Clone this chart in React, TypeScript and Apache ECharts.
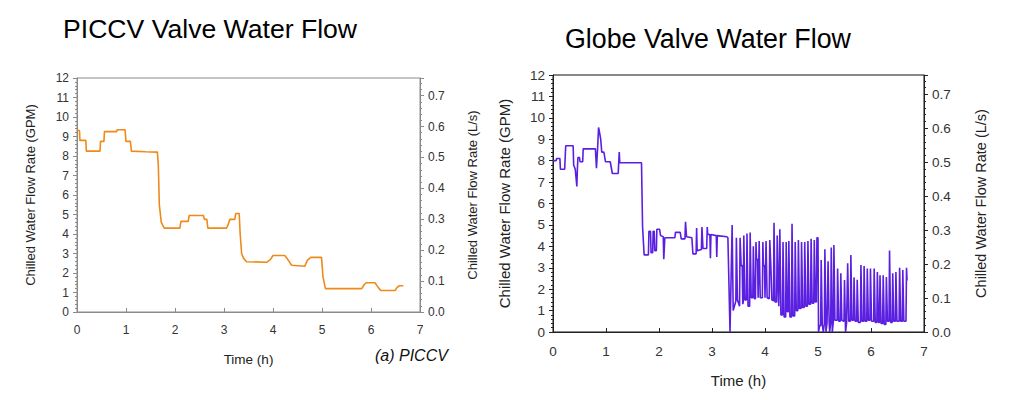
import React, { useEffect, useRef } from "react";
import * as echarts from "echarts";

// ---- PICCV valve (hours, GPM) ----
const piccvTime = [
  0, 0.05, 0.06, 0.18, 0.19, 0.47, 0.48, 0.55, 0.56, 0.81, 0.82, 0.98, 1.0, 1.09, 1.11, 1.4, 1.64, 1.66,
  1.68, 1.72, 1.78, 2.1, 2.12, 2.27, 2.29, 2.58, 2.6, 2.65, 2.67, 3.05, 3.08, 3.12, 3.22, 3.24, 3.31, 3.33,
  3.36, 3.4, 3.46, 3.87, 3.95, 4.0, 4.24, 4.3, 4.38, 4.65, 4.7, 4.77, 4.99, 5.02, 5.07, 5.81, 5.86, 5.9,
  6.08, 6.15, 6.2, 6.49, 6.53, 6.58, 6.66,
];
const piccvFlow = [
  9.35, 9.3, 8.8, 8.8, 8.25, 8.25, 8.75, 8.75, 9.25, 9.25, 9.35, 9.35, 8.75, 8.75, 8.25, 8.22, 8.2, 7.5,
  5.5, 4.6, 4.3, 4.3, 4.65, 4.65, 4.95, 4.95, 4.75, 4.75, 4.3, 4.3, 4.45, 4.75, 4.75, 5.05, 5.05, 4.0,
  3.0, 2.75, 2.58, 2.55, 2.7, 2.9, 2.9, 2.7, 2.4, 2.35, 2.65, 2.8, 2.8, 1.8, 1.2, 1.2, 1.4, 1.5,
  1.5, 1.25, 1.1, 1.1, 1.25, 1.35, 1.35,
];

// ---- Globe valve (hours, GPM) ----
const globeTime = [
  0, 0.06, 0.07, 0.13, 0.14, 0.22, 0.24, 0.38, 0.39, 0.42, 0.45, 0.46, 0.47, 0.5, 0.51, 0.56, 0.57, 0.8,
  0.82, 0.84, 0.86, 0.88, 0.9, 0.92, 0.96, 0.99, 1.08, 1.12, 1.23, 1.25, 1.26, 1.67, 1.69, 1.72, 1.8, 1.81,
  1.84, 1.85, 1.88, 1.89, 1.91, 1.92, 1.95, 1.96, 2.01, 2.03, 2.08, 2.09, 2.11, 2.3, 2.31, 2.4, 2.42, 2.49,
  2.5, 2.52, 2.62, 2.64, 2.7, 2.71, 2.72, 2.8, 2.81, 2.83, 2.9, 2.91, 2.92, 2.96, 2.97, 2.98, 3.08, 3.09,
  3.1, 3.28, 3.3,
  3.34, 3.38, 3.4, 3.45, 3.46, 3.48, 3.52, 3.53, 3.55, 3.57, 3.58, 3.59, 3.6, 3.62, 3.65, 3.66, 3.68, 3.71,
  3.72, 3.74, 3.77, 3.78, 3.8, 3.82, 3.83, 3.84, 3.86, 3.87, 3.88, 3.89, 3.91, 3.95, 3.96, 3.97, 3.99, 4.0,
  4.01, 4.02, 4.04, 4.08, 4.09, 4.11, 4.13, 4.16, 4.17, 4.19, 4.22, 4.23, 4.24, 4.26, 4.27, 4.28, 4.3, 4.33,
  4.34, 4.36, 4.39, 4.4, 4.42, 4.44, 4.45, 4.47, 4.5, 4.51, 4.53, 4.56, 4.57, 4.59, 4.62, 4.63, 4.65, 4.68,
  4.69, 4.71, 4.74, 4.75, 4.77, 4.8, 4.81, 4.83, 4.86, 4.87, 4.89, 4.92, 4.93, 4.95, 4.97, 4.98, 5.0, 5.01,
  5.03, 5.05, 5.06, 5.08, 5.1, 5.12, 5.13, 5.15, 5.17, 5.18, 5.19, 5.21, 5.22, 5.24, 5.25, 5.27, 5.29, 5.3,
  5.32, 5.36, 5.37, 5.39, 5.42, 5.43, 5.45, 5.49, 5.5, 5.52, 5.54, 5.55, 5.56, 5.58, 5.61, 5.62, 5.64, 5.67,
  5.68, 5.7, 5.73, 5.74, 5.76, 5.8, 5.81, 5.83, 5.86, 5.87, 5.89, 5.92, 5.93, 5.95, 5.98, 5.99, 6.01, 6.05,
  6.06, 6.08, 6.11, 6.12, 6.14, 6.16, 6.17, 6.19, 6.22, 6.23, 6.25, 6.28, 6.29, 6.31, 6.34, 6.35, 6.37, 6.4,
  6.41, 6.43, 6.46, 6.47, 6.49, 6.53, 6.54, 6.56, 6.59, 6.6, 6.62, 6.66, 6.67, 6.68,
];
const globeFlow = [
  8.0, 8.0, 8.1, 8.1, 7.6, 7.6, 8.7, 8.7, 7.8, 7.6, 6.8, 7.6, 8.15, 8.15, 7.95, 7.95, 8.55, 8.55,
  7.65, 8.5, 9.55, 9.3, 9.0, 8.4, 8.4, 7.95, 7.95, 7.4, 7.4, 8.4, 7.9, 7.9, 4.9, 3.6, 3.6, 4.7,
  4.7, 3.7, 3.7, 4.7, 4.7, 3.8, 3.8, 4.8, 4.8, 4.5, 4.45, 3.4, 4.4, 4.4, 4.65, 4.65, 4.35, 4.35,
  5.15, 4.45, 4.4, 3.65, 3.65, 4.85, 3.8, 3.85, 4.9, 3.9, 3.9, 4.9, 4.55, 4.55, 3.45, 4.55, 4.5, 3.5,
  4.5, 4.45, 4.4,
  0, 5.0, 1.0, 1.45, 4.4, 1.5, 1.2, 4.4, 3.1, 3.1, 1.3, 1.4, 4.5, 1.5, 1.5, 4.6, 1.2, 1.2,
  4.65, 1.6, 1.6, 4.0, 1.55, 1.55, 4.2, 3.4, 3.4, 1.6, 1.6, 4.25, 1.6, 1.6, 4.2, 3.1, 3.1, 1.6,
  1.6, 4.25, 1.6, 1.55, 4.3, 3.1, 1.5, 1.45, 5.1, 1.4, 1.4, 4.5, 3.0, 1.2, 1.2, 4.8, 0.8, 0.8,
  4.2, 0.7, 0.7, 4.2, 0.95, 0.95, 4.25, 0.7, 0.7, 5.05, 0.75, 0.75, 4.2, 1.0, 1.0, 4.3, 1.1, 1.1,
  4.2, 1.15, 1.15, 4.2, 1.2, 1.2, 4.25, 1.3, 1.3, 4.35, 1.35, 1.35, 4.3, 1.4, 1.4, 4.4, 4.4, 0,
  0.3, 0.3, 3.36, 0.35, 0.0, 0.4, 3.86, 0.0, 0.4, 0.4, 3.3, 0.5, 0.0, 0.45, 3.95, 0.0, 0.5, 4.06,
  0.55, 0.55, 2.97, 0.5, 0.5, 2.74, 0.55, 0.5, 2.43, 0.0, 0.45, 0.45, 3.21, 0.5, 0.5, 3.6, 0.55, 0.55,
  2.55, 0.5, 0.5, 2.44, 0.45, 0.45, 3.13, 0.5, 0.5, 3.08, 0.5, 0.5, 2.97, 0.55, 0.55, 2.97, 0.5, 0.5,
  2.97, 0.45, 0.45, 2.8, 0.45, 0.45, 2.65, 0.4, 0.4, 2.65, 0.35, 0.35, 2.57, 0.5, 0.5, 3.8, 0.45, 0.45,
  2.74, 0.5, 0.5, 2.8, 0.5, 0.5, 3.0, 0.5, 0.5, 2.9, 0.5, 0.5, 3.0, 2.4,
];

const xTicks = [0, 1, 2, 3, 4, 5, 6, 7];
const GPM_MAX = 12;
const GPM_TO_LPS = 0.0630902;

const FONT = "Arial, 'Liberation Sans', sans-serif";

function xAxisFor(grid: number, color: string, size: number, margin: number, gap: number) {
  return {
    type: "value",
    gridIndex: grid,
    min: xTicks[0],
    max: xTicks[xTicks.length - 1],
    interval: 1,
    name: "Time (h)",
    nameLocation: "middle",
    nameGap: gap,
    nameTextStyle: { fontFamily: FONT, fontSize: size + 1.5, color: "#222" },
    axisLine: { show: true, lineStyle: { color, width: 1 } },
    axisTick: { show: true, inside: true, length: 4, lineStyle: { color } },
    axisLabel: { fontFamily: FONT, fontSize: size, color: "#333", margin },
    splitLine: { show: false },
  };
}

function gpmAxis(grid: number, color: string, size: number, nameSize: number, gap: number) {
  return {
    type: "value",
    gridIndex: grid,
    position: "left",
    min: 0,
    max: GPM_MAX,
    interval: 1,
    name: "Chilled Water Flow Rate (GPM)",
    nameLocation: "middle",
    nameRotate: 90,
    nameGap: gap,
    nameTextStyle: { fontFamily: FONT, fontSize: nameSize, color: "#222" },
    axisLine: { show: true, lineStyle: { color, width: 1 } },
    axisTick: { show: true, inside: false, length: 4, lineStyle: { color } },
    minorTick: { show: true, splitNumber: 5, length: 2, lineStyle: { color } },
    axisLabel: { fontFamily: FONT, fontSize: size, color: "#333", margin: 8 },
    splitLine: { show: false },
  };
}

function lpsAxis(grid: number, color: string, size: number, nameSize: number, gap: number) {
  return {
    type: "value",
    gridIndex: grid,
    position: "right",
    min: 0,
    max: GPM_MAX * GPM_TO_LPS,
    interval: 0.1,
    name: "Chilled Water Flow Rate (L/s)",
    nameLocation: "middle",
    nameRotate: 90,
    nameGap: gap,
    nameTextStyle: { fontFamily: FONT, fontSize: nameSize, color: "#222" },
    axisLine: { show: true, lineStyle: { color, width: 1 } },
    axisTick: { show: true, inside: false, length: 4, lineStyle: { color } },
    minorTick: { show: true, splitNumber: 5, length: 2, lineStyle: { color } },
    axisLabel: {
      fontFamily: FONT,
      fontSize: size,
      color: "#333",
      margin: 8,
      showMaxLabel: false,
      formatter: (v: number) => v.toFixed(1),
    },
    splitLine: { show: false },
  };
}

export default function App() {
  const ref = useRef<HTMLDivElement>(null);

  useEffect(() => {
    if (!ref.current) return;
    const chart = echarts.init(ref.current, undefined, { renderer: "svg" });
    const piccvData = piccvTime.map((t, i) => [t, piccvFlow[i]]);
    const globeData = globeTime.map((t, i) => [t, globeFlow[i]]);

    chart.setOption({
      animation: false,
      backgroundColor: "#ffffff",
      grid: [
        { left: 77, top: 78, width: 343, height: 234, show: true, borderColor: "#8a8a8a", borderWidth: 1 },
        { left: 553, top: 75, width: 371, height: 257, show: true, borderColor: "#111", borderWidth: 1 },
      ],
      xAxis: [xAxisFor(0, "#8a8a8a", 12, 12, 40), xAxisFor(1, "#222", 13.5, 12, 41)],
      yAxis: [
        gpmAxis(0, "#8a8a8a", 12, 13, 40),
        lpsAxis(0, "#8a8a8a", 12, 13, 46),
        gpmAxis(1, "#222", 13.5, 15, 41),
        lpsAxis(1, "#222", 13.5, 14.5, 49),
      ],
      series: [
        {
          type: "line",
          xAxisIndex: 0,
          yAxisIndex: 0,
          data: piccvData,
          showSymbol: false,
          lineStyle: { color: "#ee8a1a", width: 1.6 },
        },
        {
          type: "line",
          xAxisIndex: 1,
          yAxisIndex: 2,
          data: globeData,
          showSymbol: false,
          lineStyle: { color: "#5a1fe0", width: 1.6 },
        },
      ],
      graphic: [
        {
          type: "text",
          left: 63,
          top: 15,
          style: { text: "PICCV Valve Water Flow", fontFamily: FONT, fontSize: 26.6, fill: "#000" },
        },
        {
          type: "text",
          left: 565,
          top: 25,
          style: { text: "Globe Valve Water Flow", fontFamily: FONT, fontSize: 26.8, fill: "#000" },
        },
        {
          type: "text",
          left: 375,
          top: 347,
          style: { text: "(a) PICCV", fontFamily: FONT, fontSize: 16, fontStyle: "italic", fill: "#111" },
        },
      ],
    });

    return () => chart.dispose();
  }, []);

  return (
    <div
      ref={ref}
      style={{ position: "absolute", left: 0, top: 0, width: 1010, height: 400, background: "#fff" }}
    />
  );
}
